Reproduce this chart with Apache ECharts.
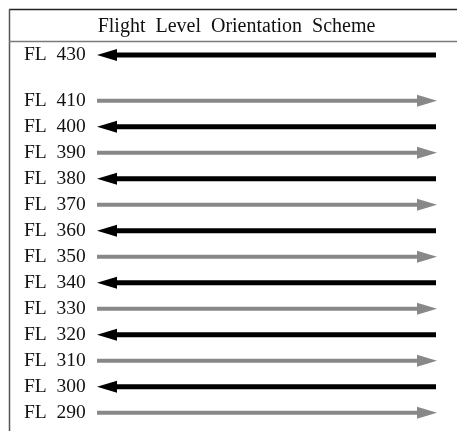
<!DOCTYPE html>
<html><head><meta charset="utf-8">
<script src="https://cdn.jsdelivr.net/npm/echarts@6/dist/echarts.min.js"></script>
<style>html,body{margin:0;padding:0;background:#fff}#c{width:457px;height:431px}</style>
</head><body><div id="c"></div>
<script>
const titleText = 'Flight  Level  Orientation  Scheme';
const labelPrefix = 'FL  ';
const upperLevels = [430];
const upperDirections = ['W'];
const lowerLevels = [290, 300, 310, 320, 330, 340, 350, 360, 370, 380, 390, 400, 410];
const lowerDirections = ['E', 'W', 'E', 'W', 'E', 'W', 'E', 'W', 'E', 'W', 'E', 'W', 'E'];

const serif = '"Liberation Serif", "DejaVu Serif", serif';

function makeRender(dirs) {
  return function (params, api) {
    const idx = api.value(1);
    const a = api.coord([0, idx]);
    const b = api.coord([1, idx]);
    const east = dirs[params.dataIndex] === 'E';
    const color = east ? '#888888' : '#000000';
    const lw = east ? 4 : 5;
    const hl = 20, hh = 6;
    let line, head;
    if (east) {
      line = { x1: a[0], y1: a[1], x2: b[0] - hl + 2, y2: b[1] };
      head = [[b[0], b[1]], [b[0] - hl, b[1] - hh], [b[0] - hl, b[1] + hh]];
    } else {
      line = { x1: a[0] + hl - 2, y1: a[1], x2: b[0] - 1, y2: b[1] };
      head = [[a[0], a[1]], [a[0] + hl, a[1] - hh], [a[0] + hl, a[1] + hh]];
    }
    return {
      type: 'group',
      children: [
        { type: 'line', shape: line, style: { stroke: color, lineWidth: lw } },
        { type: 'polygon', shape: { points: head }, style: { fill: color } }
      ]
    };
  };
}

function yAxisFor(levels, gridIndex) {
  return {
    type: 'category', gridIndex: gridIndex, data: levels.map(String), boundaryGap: true,
    axisLine: { show: false }, axisTick: { show: false }, splitLine: { show: false },
    axisLabel: {
      interval: 0, hideOverlap: false,
      formatter: v => labelPrefix + v, align: 'left', margin: 73, padding: [3, 0, 0, 0],
      fontFamily: serif, fontSize: 19.5, color: '#111'
    }
  };
}

const chart = echarts.init(document.getElementById('c'), null, { renderer: 'canvas' });
chart.setOption({
  animation: false,
  grid: [
    { left: 97, right: 20, top: 42, height: 26 },
    { left: 97, right: 20, top: 87.7, height: 338 }
  ],
  xAxis: [
    { type: 'value', gridIndex: 0, min: 0, max: 1, show: false },
    { type: 'value', gridIndex: 1, min: 0, max: 1, show: false }
  ],
  yAxis: [yAxisFor(upperLevels, 0), yAxisFor(lowerLevels, 1)],
  series: [
    { type: 'custom', xAxisIndex: 0, yAxisIndex: 0, encode: { x: 0, y: 1 },
      data: upperLevels.map(l => [0, String(l)]), renderItem: makeRender(upperDirections) },
    { type: 'custom', xAxisIndex: 1, yAxisIndex: 1, encode: { x: 0, y: 1 },
      data: lowerLevels.map(l => [0, String(l)]), renderItem: makeRender(lowerDirections) }
  ],
  graphic: [
    { type: 'line', shape: { x1: 9, y1: 9.5, x2: 457, y2: 9.5 }, style: { stroke: '#222', lineWidth: 1.5 } },
    { type: 'line', shape: { x1: 9.5, y1: 9, x2: 9.5, y2: 431 }, style: { stroke: '#555', lineWidth: 1.5 } },
    { type: 'line', shape: { x1: 9, y1: 41.5, x2: 457, y2: 41.5 }, style: { stroke: '#7a7a7a', lineWidth: 1.5 } },
    { type: 'text', x: 236.5, y: 26.5, style: { text: titleText, textAlign: 'center', textVerticalAlign: 'middle',
      font: '20px ' + serif, fill: '#111' } }
  ]
});
</script></body></html>
